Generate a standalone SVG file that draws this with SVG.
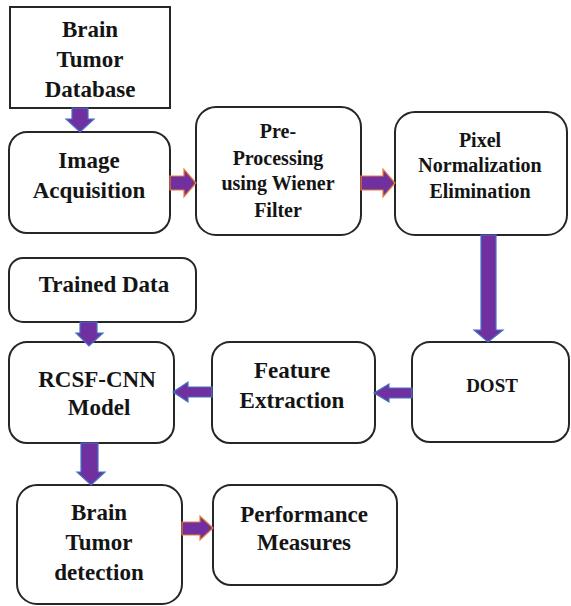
<svg xmlns="http://www.w3.org/2000/svg" width="571" height="606" viewBox="0 0 571 606">
  <style>
    .box { fill: #ffffff; stroke: #262626; stroke-width: 2; }
    .t { font-family: "Liberation Serif", "Times New Roman", serif; font-weight: bold; fill: #141414; text-anchor: middle; }
    .big { font-size: 23px; }
    .mid { font-size: 20px; }
    .sm { font-size: 19px; }
    .arr-o { fill: #7030A0; stroke: #ED7D31; stroke-width: 1.2; stroke-linejoin: miter; }
    .arr-b { fill: #7030A0; stroke: #4472C4; stroke-width: 1.2; stroke-linejoin: miter; }
  </style>
  <rect width="571" height="606" fill="#ffffff"/>

  <g id="node-database">
    <rect class="box" x="10" y="7" width="160" height="101"/>
    <text class="t big"><tspan x="90" y="37">Brain</tspan><tspan x="90" y="67">Tumor</tspan><tspan x="90" y="97">Database</tspan></text>
  </g>

  <g id="node-acquisition">
    <rect class="box" x="9" y="132" width="161" height="101" rx="18"/>
    <text class="t big"><tspan x="89" y="168">Image</tspan><tspan x="89" y="198">Acquisition</tspan></text>
  </g>

  <g id="node-preprocessing">
    <rect class="box" x="196" y="107" width="165" height="128" rx="20"/>
    <text class="t mid"><tspan x="278" y="138">Pre-</tspan><tspan x="278" y="165">Processing</tspan><tspan x="278" y="190">using Wiener</tspan><tspan x="278" y="217">Filter</tspan></text>
  </g>

  <g id="node-pixel">
    <rect class="box" x="395" y="112" width="172" height="123" rx="20"/>
    <text class="t mid"><tspan x="480" y="147">Pixel</tspan><tspan x="480" y="172">Normalization</tspan><tspan x="480" y="198">Elimination</tspan></text>
  </g>

  <g id="node-trained">
    <rect class="box" x="9" y="258" width="187" height="64" rx="14"/>
    <text class="t big" x="104" y="292">Trained Data</text>
  </g>

  <g id="node-rcsf">
    <rect class="box" x="9" y="342" width="165" height="101" rx="18"/>
    <text class="t big"><tspan x="97" y="387">RCSF-CNN</tspan><tspan x="99" y="415">Model</tspan></text>
  </g>

  <g id="node-feature">
    <rect class="box" x="212" y="342" width="163" height="101" rx="18"/>
    <text class="t big"><tspan x="292" y="378">Feature</tspan><tspan x="292" y="408">Extraction</tspan></text>
  </g>

  <g id="node-dost">
    <rect class="box" x="412" y="342" width="157" height="100" rx="18"/>
    <text class="t sm" x="492" y="392">DOST</text>
  </g>

  <g id="node-detection">
    <rect class="box" x="17" y="485" width="165" height="119" rx="20"/>
    <text class="t big"><tspan x="99" y="520">Brain</tspan><tspan x="99" y="550">Tumor</tspan><tspan x="99" y="580">detection</tspan></text>
  </g>

  <g id="node-performance">
    <rect class="box" x="213" y="485" width="184" height="100" rx="18"/>
    <text class="t big"><tspan x="304" y="522">Performance</tspan><tspan x="304" y="550">Measures</tspan></text>
  </g>

  <g id="connectors">
    <!-- database down to acquisition -->
    <polygon class="arr-b" points="72,108 88,108 88,119 94,119 80,132 66,119 72,119"/>
    <!-- acquisition right to preprocessing -->
    <polygon class="arr-o" points="170,176 184,176 184,169 196,183 184,197 184,190 170,190"/>
    <!-- preprocessing right to pixel -->
    <polygon class="arr-o" points="361,176 383,176 383,169 395,183 383,197 383,190 361,190"/>
    <!-- pixel down to DOST -->
    <polygon class="arr-b" points="481,235 496,235 496,330 503,330 488,342 474,330 481,330"/>
    <!-- DOST left to feature -->
    <polygon class="arr-b" points="412,388 389,388 389,384 374,393 389,402 389,398 412,398"/>
    <!-- feature left to RCSF -->
    <polygon class="arr-b" points="212,387 188,387 188,382 173,392 188,402 188,397 212,397"/>
    <!-- trained down to RCSF -->
    <polygon class="arr-b" points="80,322 97,322 97,333 103,333 89,346 76,333 80,333"/>
    <!-- RCSF down to detection -->
    <polygon class="arr-b" points="81,443 98,443 98,472 105,472 91,485 77,472 81,472"/>
    <!-- detection right to performance -->
    <polygon class="arr-o" points="182,522 200,522 200,516 213,528 200,540 200,535 182,535"/>
  </g>
</svg>
